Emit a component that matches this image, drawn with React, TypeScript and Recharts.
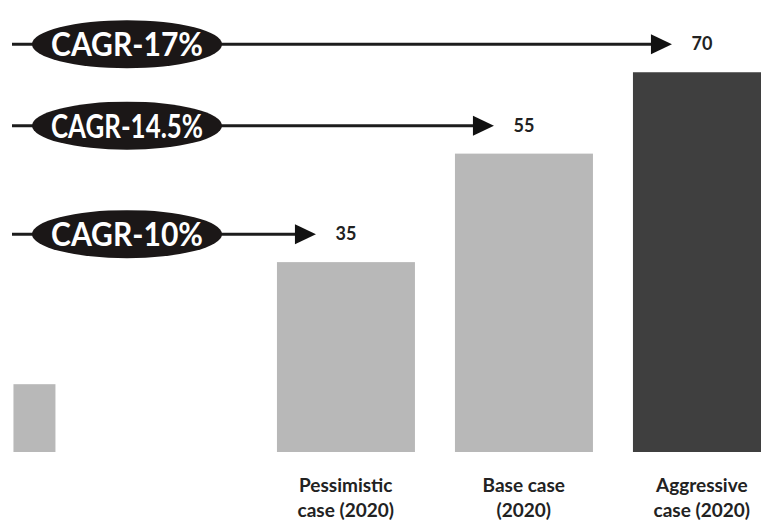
import { BarChart, Bar, XAxis, YAxis, Cell } from 'recharts'

// market size, USD bn
const categories = ['Current', 'Pessimistic case (2020)', 'Base case (2020)', 'Aggressive case (2020)']
const values = [12.5, 35, 55, 70]
const cagrLabels = ['', 'CAGR-10%', 'CAGR-14.5%', 'CAGR-17%']
const tickLines = [[], ['Pessimistic', 'case (2020)'], ['Base case', '(2020)'], ['Aggressive', 'case (2020)']]
// empty slots placed before each category on the axis
const gapsBefore = [0, 6, 3, 3]

const barColors = ['#b8b8b8', '#b8b8b8', '#b8b8b8', '#3f3f3f']
const FONT = 'Lato, "Open Sans", sans-serif'

type Row = { key: string; name: string; value: number | null; idx: number }

const data: Row[] = []
categories.forEach((c, i) => {
  for (let g = 0; g < gapsBefore[i]; g++) data.push({ key: `gap-${i}-${g}`, name: '', value: null, idx: -1 })
  data.push({ key: c, name: c, value: values[i], idx: i })
})

// bar plus its CAGR arrow and value label
function BarShape(props: any) {
  const { x, y, width, height, payload } = props
  if (payload == null || payload.value == null) return null
  const i = payload.idx
  const w = i === 0 ? 42 : 138
  const cx = x + width / 2
  const ly = y - 28
  const tip = cx - 30
  return (
    <g>
      <rect x={cx - w / 2} y={y} width={w} height={height} fill={barColors[i]} />
      {cagrLabels[i] && (
        <g>
          <line x1={12} y1={ly} x2={tip - 16} y2={ly} stroke="#1c1c1c" strokeWidth={3} />
          <polygon points={`${tip},${ly} ${tip - 21},${ly - 10} ${tip - 21},${ly + 10}`} fill="#111" />
          <ellipse cx={127} cy={ly} rx={95} ry={24} fill="#1b1717" />
          <text
            x={127}
            y={ly + 12}
            textAnchor="middle"
            fill="#fff"
            fontFamily={FONT}
            fontWeight={700}
            fontSize={32}
            textLength={152}
            lengthAdjust="spacingAndGlyphs"
          >
            {cagrLabels[i]}
          </text>
          <text x={cx} y={ly + 6} textAnchor="middle" fill="#222" fontFamily={FONT} fontWeight={700} fontSize={18}>
            {payload.value}
          </text>
        </g>
      )}
    </g>
  )
}

function CategoryTick(props: any) {
  const { x, y, payload } = props
  const row = data[payload.index]
  if (!row || row.idx < 0) return null
  const lines = tickLines[row.idx]
  return (
    <g>
      {lines.map((l, k) => (
        <text key={k} x={x} y={y + 32 + k * 25} textAnchor="middle" fill="#222" fontFamily={FONT} fontWeight={700} fontSize={19}>
          {l}
        </text>
      ))}
    </g>
  )
}

export default function App() {
  return (
    <div style={{ position: 'absolute', left: 0, top: 0, width: 761, height: 520, background: '#fff', overflow: 'hidden' }}>
      <BarChart width={761} height={520} data={data} margin={{ top: 18, right: 37, left: 12, bottom: 0 }}>
        <XAxis dataKey="key" interval={0} tick={<CategoryTick />} tickLine={false} axisLine={false} height={68} />
        <YAxis hide domain={[0, 80]} />
        <Bar dataKey="value" shape={<BarShape />} isAnimationActive={false}>
          {data.map((d) => (
            <Cell key={d.key} fill={d.idx >= 0 ? barColors[d.idx] : 'none'} />
          ))}
        </Bar>
      </BarChart>
    </div>
  )
}
